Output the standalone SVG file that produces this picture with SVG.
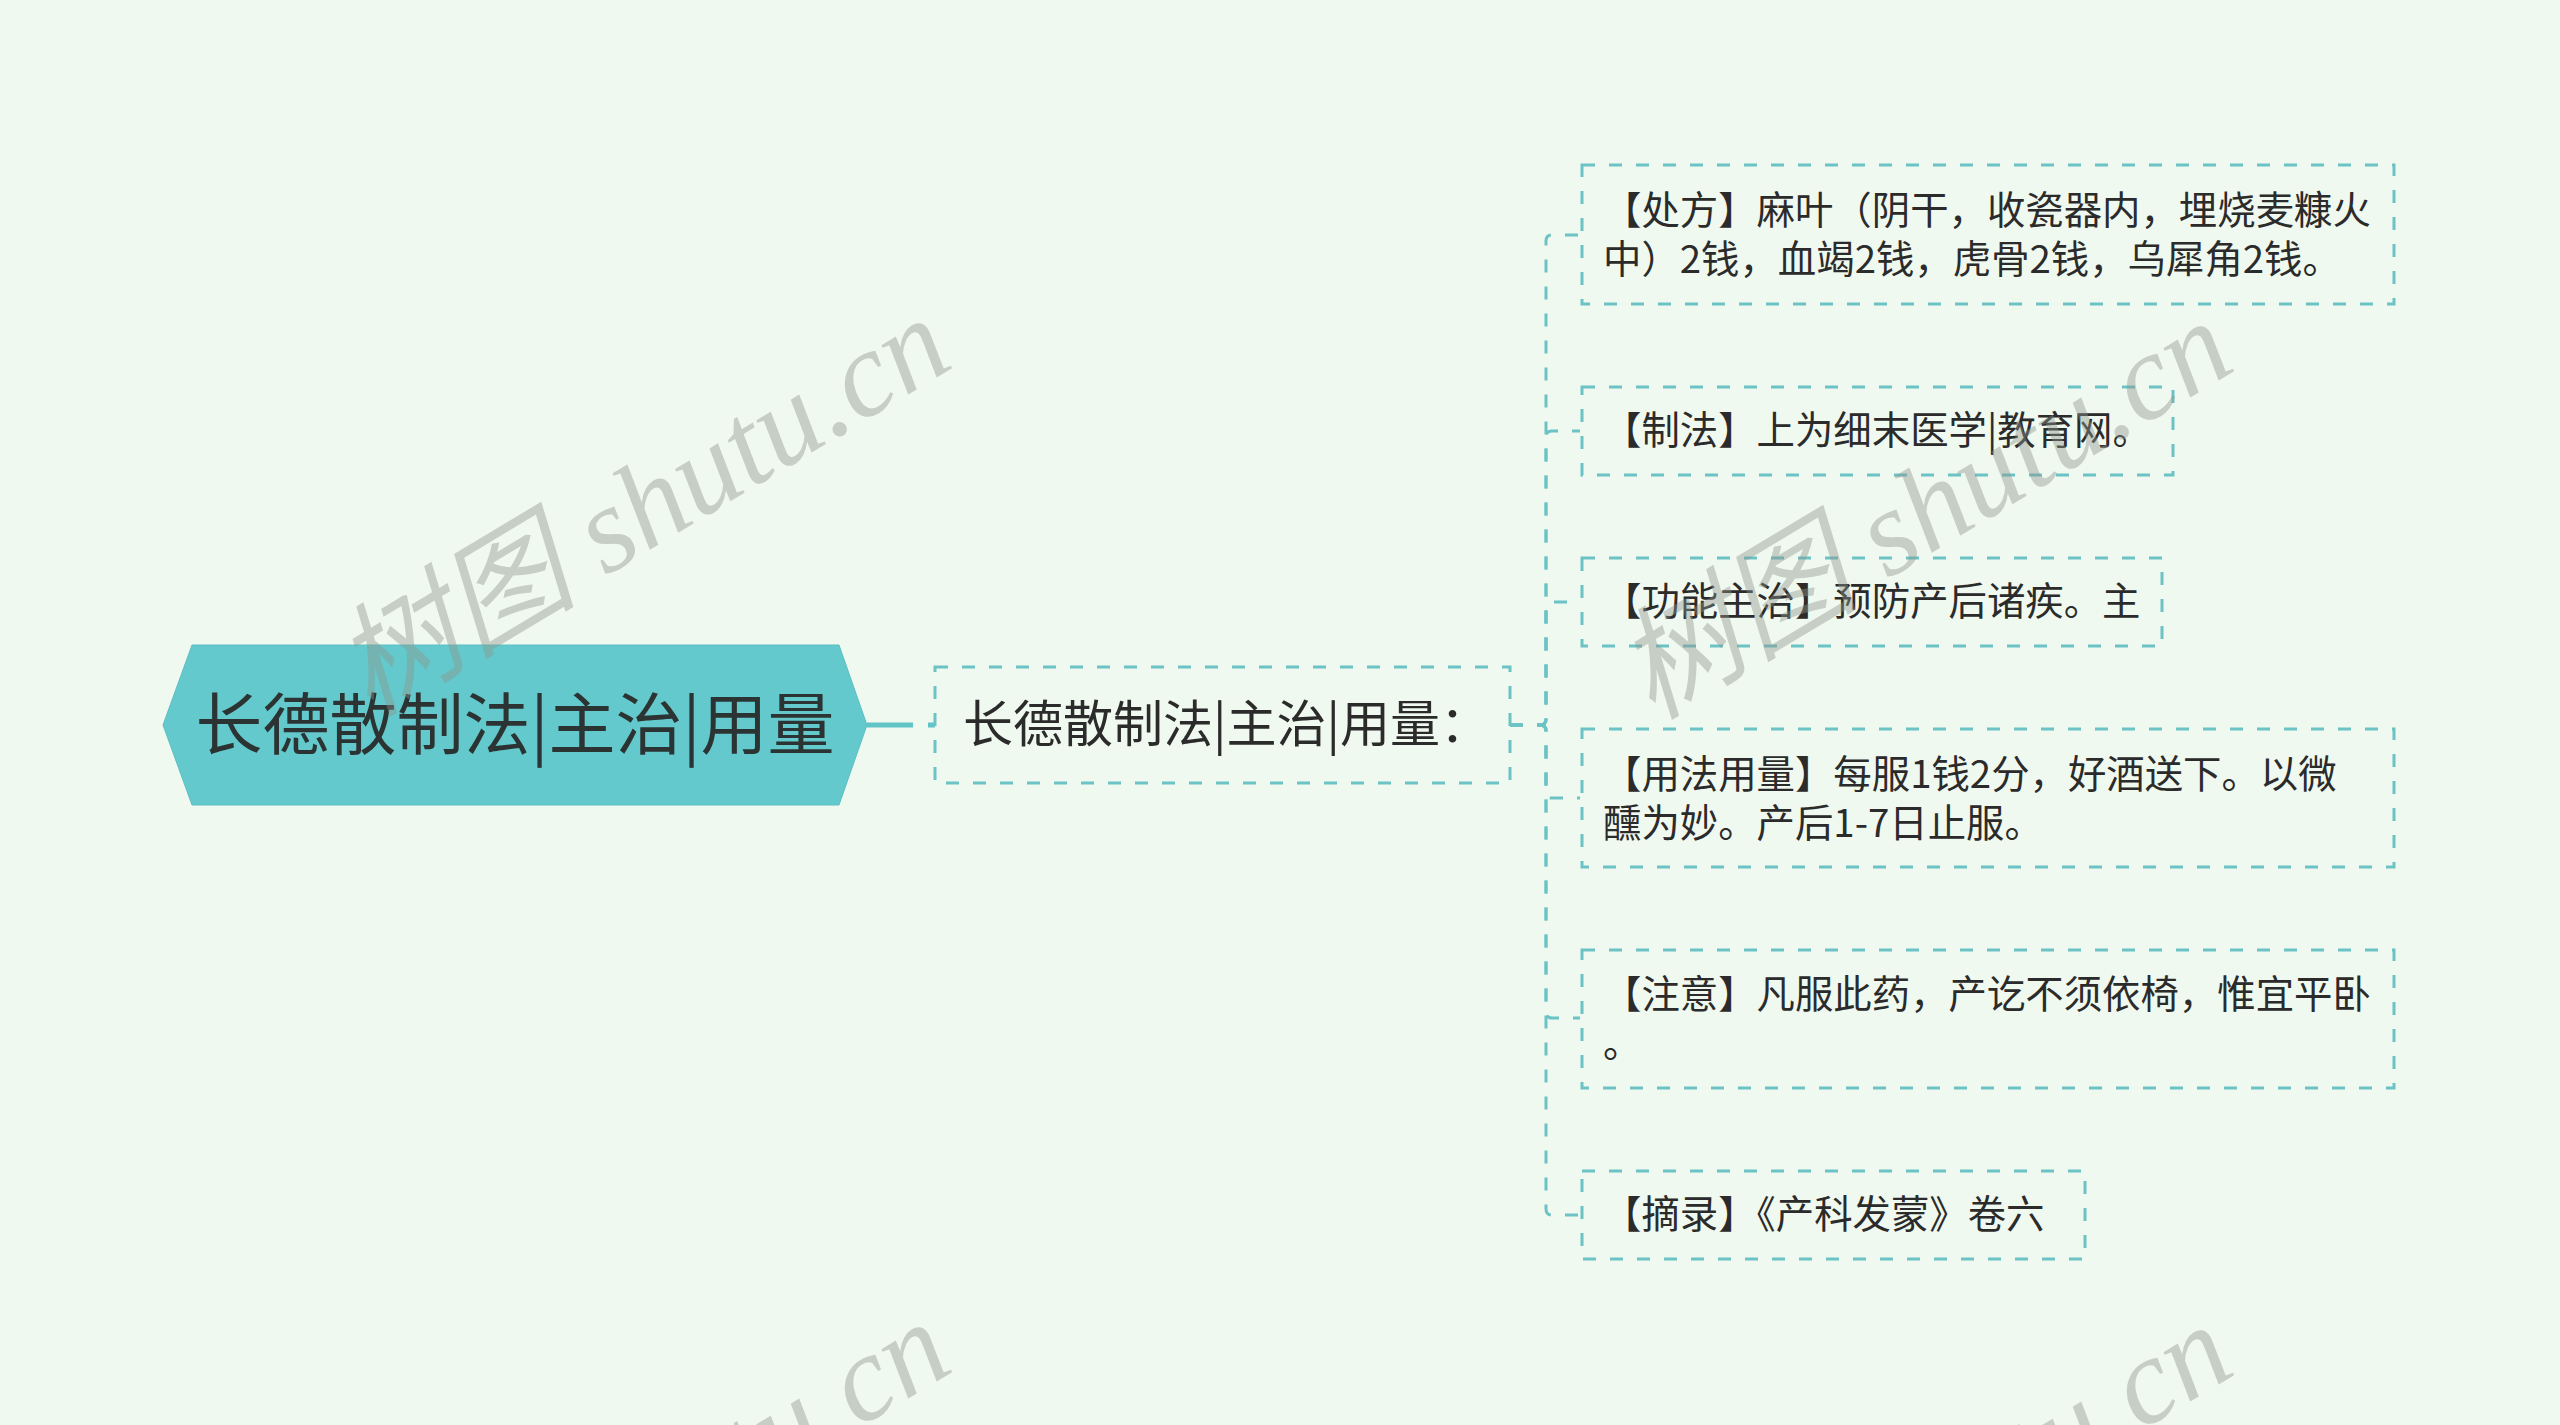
<svg xmlns="http://www.w3.org/2000/svg" width="2560" height="1425" viewBox="0 0 2560 1425">
<style>
.bg{fill:#F0F9EF}
.root{fill:#63C9CC;stroke:#5BBFC2;stroke-width:1}
.rt{font-family:"Noto Sans CJK SC","Noto Sans",sans-serif;font-size:67px;fill:#2B3333}
.box{fill:none;stroke:#6CC3C6;stroke-width:3;stroke-dasharray:13 14}
.st{font-family:"Noto Sans CJK SC","Noto Sans",sans-serif;font-size:50px;fill:#2B2B2B}
.ct{font-family:"Noto Sans CJK SC","Noto Sans",sans-serif;font-size:38.4px;fill:#2B2B2B}
.edge{fill:none;stroke:#6CC3C6;stroke-width:3;stroke-dasharray:13 14}
.wm{font-family:"Liberation Serif","Noto Sans CJK SC",serif;font-style:italic;font-size:122px;fill:#8E958E;opacity:0.42}
</style>
<rect class="bg" x="0" y="0" width="2560" height="1425"/>
<g id="connectors">
<path d="M867,725 H935" fill="none" stroke="#63C4C8" stroke-width="5" stroke-dasharray="46 15 10 20"/>
<path class="edge" d="M1510,725 H1540 Q1546,725 1546,719 V241 Q1546,235 1552,235 H1580"/>
<path class="edge" d="M1510,725 H1540 Q1546,725 1546,719 V437 Q1546,431 1552,431 H1580"/>
<path class="edge" d="M1510,725 H1540 Q1546,725 1546,719 V608 Q1546,602 1552,602 H1580"/>
<path class="edge" d="M1510,725 H1540 Q1546,725 1546,731 V792 Q1546,798 1552,798 H1580"/>
<path class="edge" d="M1510,725 H1540 Q1546,725 1546,731 V1012 Q1546,1018 1552,1018 H1580"/>
<path class="edge" d="M1510,725 H1540 Q1546,725 1546,731 V1209 Q1546,1215 1552,1215 H1580"/>
</g>
<g id="root">
<polygon class="root" points="163,725 192,645 839,645 867,725 839,805 192,805"/>
<text class="rt" x="515" y="749" text-anchor="middle">长德散制法|主治|用量</text>
</g>
<g id="sub">
<rect class="box" x="935" y="667" width="575" height="116"/>
<text class="st" x="963" y="742">长德散制法|主治|用量：</text>
</g>
<g id="c1">
<rect class="box" x="1582" y="165" width="812" height="139"/>
<text class="ct" x="1603" y="224">【处方】麻叶（阴干，收瓷器内，埋烧麦糠火</text>
<text class="ct" x="1603" y="273">中）2钱，血竭2钱，虎骨2钱，乌犀角2钱。</text>
</g>
<g id="c2">
<rect class="box" x="1582" y="387" width="591" height="88"/>
<text class="ct" x="1603" y="444">【制法】上为细末医学|教育网。</text>
</g>
<g id="c3">
<rect class="box" x="1582" y="558" width="580" height="88"/>
<text class="ct" x="1603" y="615">【功能主治】预防产后诸疾。主</text>
</g>
<g id="c4">
<rect class="box" x="1582" y="729" width="812" height="138"/>
<text class="ct" x="1603" y="788">【用法用量】每服1钱2分，好酒送下。以微</text>
<text class="ct" x="1603" y="837">醺为妙。产后1-7日止服。</text>
</g>
<g id="c5">
<rect class="box" x="1582" y="950" width="812" height="138"/>
<text class="ct" x="1603" y="1008">【注意】凡服此药，产讫不须依椅，惟宜平卧</text>
<text class="ct" x="1603" y="1057">。</text>
</g>
<g id="c6">
<rect class="box" x="1582" y="1171" width="503" height="88"/>
<text class="ct" x="1603" y="1228">【摘录】《产科发蒙》卷六</text>
</g>
<g id="watermarks">
<text class="wm" transform="translate(642,506) rotate(-31)" text-anchor="middle" dominant-baseline="central">树图 shutu.cn</text>
<text class="wm" transform="translate(1924,509) rotate(-31)" text-anchor="middle" dominant-baseline="central">树图 shutu.cn</text>
<text class="wm" transform="translate(642,1510) rotate(-31)" text-anchor="middle" dominant-baseline="central">树图 shutu.cn</text>
<text class="wm" transform="translate(1924,1513) rotate(-31)" text-anchor="middle" dominant-baseline="central">树图 shutu.cn</text>
</g>
</svg>
